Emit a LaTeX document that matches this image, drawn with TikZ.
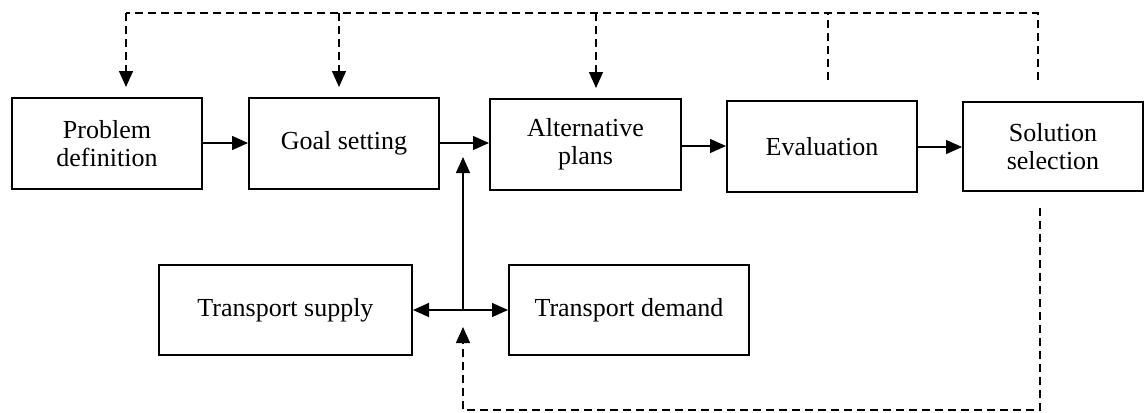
\documentclass[tikz,border=0pt]{standalone}
\usepackage{fontspec}
\setmainfont{Liberation Serif}
\usetikzlibrary{arrows.meta}
\begin{document}
\begin{tikzpicture}[x=0.5pt,y=-0.5pt,
  box/.style={draw, line width=1pt, inner sep=2pt, align=center,
    font=\fontsize{13}{14}\selectfont},
  flow/.style={line width=0.7pt, -{Triangle[length=8pt,width=7pt]}},
  fb/.style={line width=0.7pt, dash pattern=on 4pt off 2.5pt},
  fbarrow/.style={fb, -{Triangle[length=8pt,width=7pt]}}]
\useasboundingbox (0,0) rectangle (1145,412);

% main process chain
\node[box, minimum width=95pt, minimum height=45.5pt] (pd) at (107,143.5) {Problem\\definition};
\node[box, minimum width=95pt, minimum height=45.5pt] (gs) at (344,143.5) {Goal setting};
\node[box, minimum width=95.5pt, minimum height=45.5pt] (ap) at (585.5,144.5) {Alternative\\plans};
\node[box, minimum width=95pt, minimum height=45.5pt] (ev) at (822,146.5) {Evaluation};
\node[box, minimum width=90pt, minimum height=44.5pt] (ss) at (1053,146.5) {Solution\\selection};

% transport system boxes
\node[box, minimum width=126.5pt, minimum height=45pt] (ts) at (285.5,310) {Transport supply};
\node[box, minimum width=120pt, minimum height=45pt] (td) at (629,310) {Transport demand};

% chain arrows
\draw[flow] (pd.east |- 0,143) -- (gs.west |- 0,143);
\draw[flow] (gs.east |- 0,143) -- (ap.west |- 0,143);
\draw[flow] (ap.east |- 0,146) -- (ev.west |- 0,146);
\draw[flow] (ev.east |- 0,147) -- (ss.west |- 0,147);

% supply/demand junction feeding the chain
\coordinate (jn) at (463,310);
\coordinate (jup) at (463,157);
\draw[flow] (jn) -- (jup);
\draw[flow] (jn) -- (ts.east |- jn);
\draw[flow] (jn) -- (td.west |- jn);

% feedback loop along the top
\coordinate (t1) at (126,13);
\coordinate (t2) at (339,13);
\coordinate (t3) at (596,13);
\coordinate (t4) at (828,13);
\coordinate (t5) at (1038,13);
\coordinate (e4) at (828,80);
\coordinate (e5) at (1038,80);
\coordinate (a1) at (126,87);
\coordinate (a2) at (339,87);
\coordinate (a3) at (596,88);
\draw[fb] (e4) -- (t4);
\draw[fb] (e5) -- (t5) -- (t1);
\draw[fbarrow] (t1) -- (a1);
\draw[fbarrow] (t2) -- (a2);
\draw[fbarrow] (t3) -- (a3);

% feedback loop along the bottom
\coordinate (b0) at (1040,208);
\coordinate (b1) at (1040,410);
\coordinate (b2) at (463,410);
\coordinate (b3) at (463,327);
\draw[fbarrow] (b0) -- (b1) -- (b2) -- (b3);
\end{tikzpicture}
\end{document}
